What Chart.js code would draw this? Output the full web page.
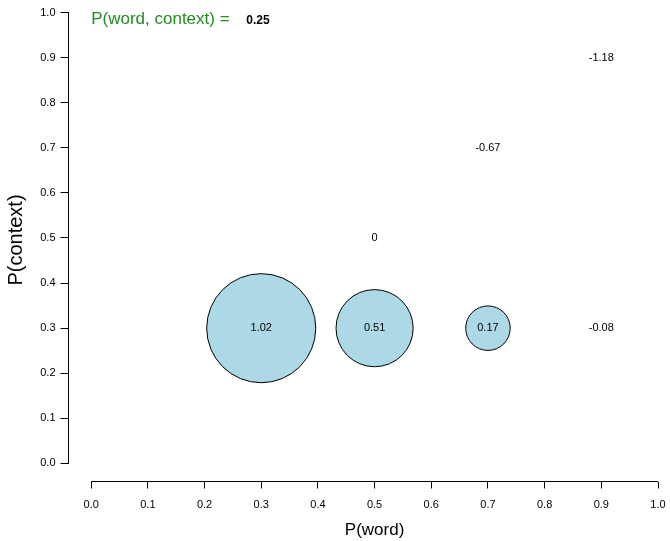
<!DOCTYPE html>
<html>
<head>
<meta charset="utf-8">
<script src="https://cdn.jsdelivr.net/npm/chart.js@4/dist/chart.umd.min.js"></script>
<style>
  html, body { margin: 0; padding: 0; background: #fff; }
  #wrap { width: 670px; height: 541px; }
</style>
</head>
<body>
<div id="wrap"><canvas id="pmiChart"></canvas></div>
<script>
// word / context probabilities and their PMI values
const wordProb = [0.3, 0.5, 0.7, 0.9, 0.5, 0.7, 0.9];
const contextProb = [0.3, 0.3, 0.3, 0.3, 0.5, 0.7, 0.9];
const pmiValues = [1.02, 0.51, 0.17, -0.08, 0, -0.67, -1.18];
const jointProb = 0.25;
const xTicks = [0, 0.1, 0.2, 0.3, 0.4, 0.5, 0.6, 0.7, 0.8, 0.9, 1.0];
const yTicks = [0, 0.1, 0.2, 0.3, 0.4, 0.5, 0.6, 0.7, 0.8, 0.9, 1.0];

const FONT = '"Liberation Sans", Arial, Helvetica, sans-serif';
const RADIUS_SCALE = 54;

const points = wordProb.map((x, i) => ({
    x: x,
    y: contextProb[i],
    r: pmiValues[i] > 0 ? RADIUS_SCALE * Math.sqrt(pmiValues[i]) : 0
}));

// R-style axes: lines only between first and last tick, plus labels
const rAxesPlugin = {
    id: 'rAxes',
    afterDraw(chart) {
        const { ctx, chartArea, scales } = chart;
        const xs = scales.x, ys = scales.y;
        ctx.save();
        ctx.strokeStyle = '#000';
        ctx.lineWidth = 1;
        ctx.beginPath();
        ctx.moveTo(xs.getPixelForValue(xTicks[0]), chartArea.bottom);
        ctx.lineTo(xs.getPixelForValue(xTicks[xTicks.length - 1]), chartArea.bottom);
        ctx.moveTo(chartArea.left, ys.getPixelForValue(yTicks[0]));
        ctx.lineTo(chartArea.left, ys.getPixelForValue(yTicks[yTicks.length - 1]));
        ctx.stroke();

        // value labels on the points
        ctx.fillStyle = '#000';
        ctx.font = '11px ' + FONT;
        ctx.textAlign = 'center';
        ctx.textBaseline = 'middle';
        chart.getDatasetMeta(0).data.forEach((el, i) => {
            ctx.fillText(String(pmiValues[i]), el.x, el.y);
        });

        // axis titles
        ctx.font = '17px ' + FONT;
        ctx.fillText('P(word)', (xs.getPixelForValue(0) + xs.getPixelForValue(1)) / 2, 530);
        ctx.save();
        ctx.font = '20px ' + FONT;
        ctx.translate(16, 240);
        ctx.rotate(-Math.PI / 2);
        ctx.fillText('P(context)', 0, 0);
        ctx.restore();

        // header text
        ctx.textAlign = 'left';
        ctx.textBaseline = 'alphabetic';
        ctx.font = '17px ' + FONT;
        ctx.fillStyle = '#228B22';
        const head = 'P(word, context) = ';
        const hx = xs.getPixelForValue(0);
        ctx.fillText(head, hx, 24);
        const w = ctx.measureText(head).width;
        ctx.fillStyle = '#000';
        ctx.font = 'bold 12px ' + FONT;
        ctx.fillText(String(jointProb), hx + w + 12, 24);
        ctx.restore();
    }
};

new Chart(document.getElementById('pmiChart'), {
    type: 'bubble',
    data: {
        datasets: [{
            data: points,
            backgroundColor: '#ADD8E6',
            borderColor: '#000',
            borderWidth: ctx => (ctx.raw && ctx.raw.r > 0 ? 1 : 0),
            hoverRadius: 0,
            clip: false
        }]
    },
    options: {
        responsive: true,
        maintainAspectRatio: false,
        animation: false,
        events: [],
        layout: { autoPadding: false, padding: { top: 12.5, right: 12, left: 0, bottom: 0 } },
        plugins: {
            legend: { display: false },
            tooltip: { enabled: false }
        },
        scales: {
            x: {
                type: 'linear',
                min: -0.04,
                max: 1.0,
                afterFit: s => { s.height = 59.5; s.paddingLeft = 0; s.paddingRight = 0; },
                afterBuildTicks: s => { s.ticks = xTicks.map(v => ({ value: v })); },
                grid: { drawOnChartArea: false, drawTicks: true, tickLength: 7, tickColor: '#000' },
                border: { display: false },
                ticks: {
                    padding: 10,
                    color: '#000',
                    font: { family: FONT, size: 11 },
                    maxRotation: 0,
                    autoSkip: false,
                    callback: v => v.toFixed(1)
                }
            },
            y: {
                type: 'linear',
                min: -0.04,
                max: 1.0,
                afterFit: s => { s.width = 68.5; s.paddingTop = 0; s.paddingBottom = 0; },
                afterBuildTicks: s => { s.ticks = yTicks.map(v => ({ value: v })); },
                grid: { drawOnChartArea: false, drawTicks: true, tickLength: 8, tickColor: '#000' },
                border: { display: false },
                ticks: {
                    padding: 5,
                    color: '#000',
                    font: { family: FONT, size: 11 },
                    autoSkip: false,
                    callback: v => v.toFixed(1)
                }
            }
        }
    },
    plugins: [rAxesPlugin]
});
</script>
</body>
</html>
